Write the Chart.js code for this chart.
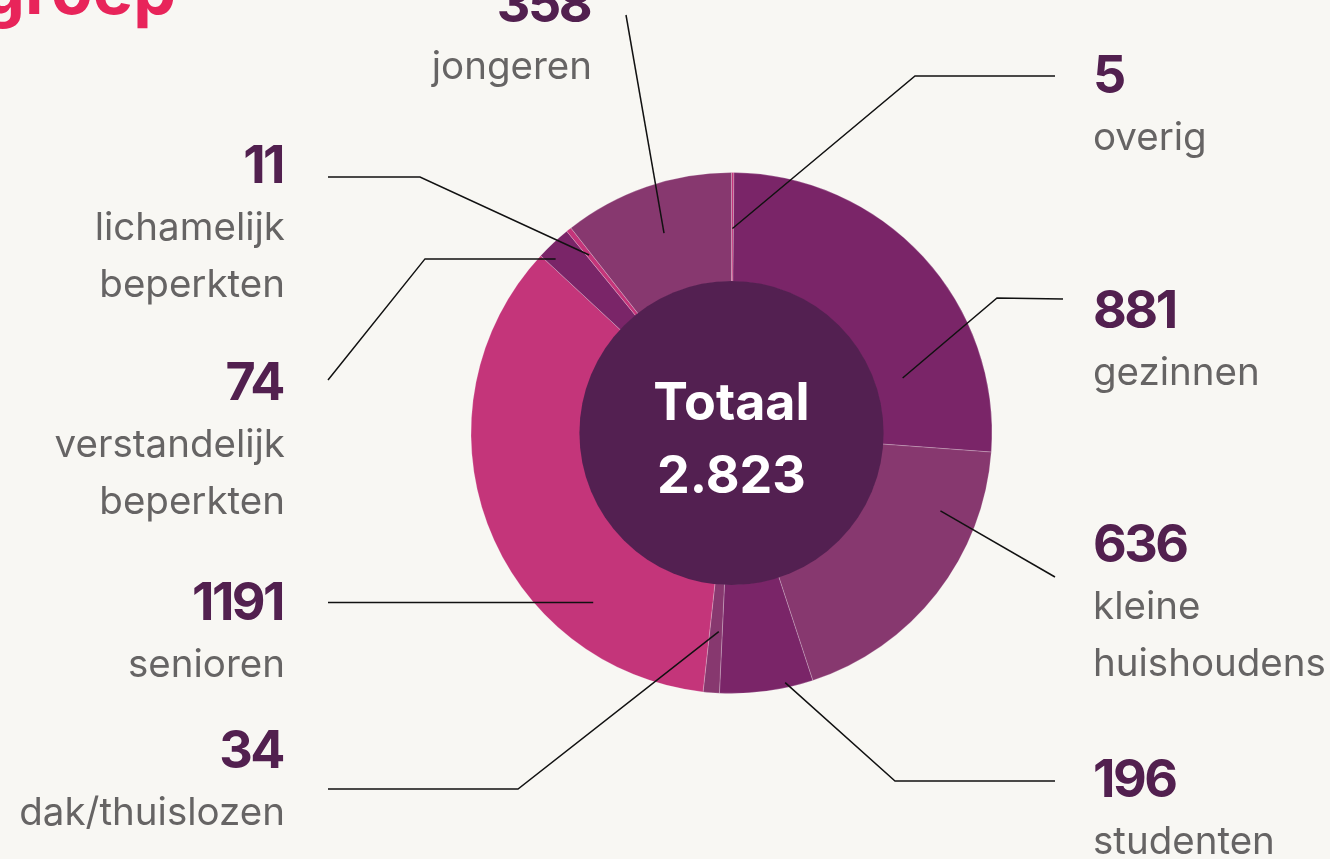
<!DOCTYPE html>
<html>
<head>
<meta charset="utf-8">
<script src="https://cdn.jsdelivr.net/npm/chart.js@4.4.0/dist/chart.umd.min.js"></script>
<style>
  html, body { margin: 0; padding: 0; background: #f8f7f3; overflow: hidden; }
  #wrap { position: relative; width: 1330px; height: 859px; }
</style>
</head>
<body>
<div id="wrap"><canvas id="grafiek" width="1330" height="859"></canvas></div>
<script>
// doelgroepen, met de klok mee vanaf boven
const categorieen = ['overig', 'gezinnen', 'kleine huishoudens', 'studenten', 'dak/thuislozen',
  'senioren', 'verstandelijk beperkten', 'lichamelijk beperkten', 'jongeren'];
const aantallen = [5, 881, 636, 196, 34, 1191, 74, 11, 358];
const kleuren = ['#c4357a', '#7a2568', '#87386f', '#7a2568', '#87386f',
  '#c4357a', '#7a2568', '#c4357a', '#87386f'];
// labeltekst per regel
const labelRegels = [['overig'], ['gezinnen'], ['kleine', 'huishoudens'], ['studenten'], ['dak/thuislozen'],
  ['senioren'], ['verstandelijk', 'beperkten'], ['lichamelijk', 'beperkten'], ['jongeren']];
const totaalTekst = '2.823';

// plaatsing van labels en lijntjes (t = fractie van de boog, r = fractie van de straal)
const plaatsing = [
  { t: 0.5,  r: 0.785, knik: [915, 76],  eind: [1055, 76],  x: 1093, y: 93,  align: 'left' },
  { t: 0.765, r: 0.69, knik: [997, 298], eind: [1063, 299], x: 1093, y: 328, align: 'left' },
  { t: 0.24, r: 0.856, knik: null,       eind: [1055, 577], x: 1093, y: 562, align: 'left' },
  { t: 0.29, r: 0.98,  knik: [895, 781], eind: [1055, 781], x: 1093, y: 797, align: 'left' },
  { t: 0.28, r: 0.764, knik: [518, 789], eind: [328, 789],  x: 285,  y: 768, align: 'right' },
  { t: 0.26, r: 0.84,  knik: null,       eind: [328, null], x: 285,  y: 620, align: 'right' },
  { t: 0.23, r: 0.95,  knik: [425, null], eind: [328, 380], x: 285,  y: 400, align: 'right' },
  { t: 0.5,  r: 0.875, knik: [420, 177], eind: [328, 177],  x: 285,  y: 183, align: 'right' },
  { t: 0.51, r: 0.81,  knik: null,       eind: [626, 15],   x: 592,  y: 22,  align: 'right' }
];

const FONT = '"Inter", "Noto Sans", sans-serif';

const labelsPlugin = {
  id: 'labels',
  afterDatasetsDraw(chart) {
    const ctx = chart.ctx;
    const arcs = chart.getDatasetMeta(0).data;
    const eerste = arcs[0];

    // donkere cirkel in het midden
    ctx.save();
    ctx.beginPath();
    ctx.arc(eerste.x, eerste.y, eerste.innerRadius + 1, 0, Math.PI * 2);
    ctx.fillStyle = '#532051';
    ctx.fill();

    ctx.fillStyle = '#ffffff';
    ctx.textAlign = 'center';
    ctx.textBaseline = 'alphabetic';
    ctx.font = 'bold 52px ' + FONT;
    ctx.fillText('Totaal', eerste.x, 420);
    ctx.fillText(totaalTekst, eerste.x, 493);

    // lijntjes
    ctx.strokeStyle = '#111111';
    ctx.lineWidth = 1.5;
    arcs.forEach((arc, i) => {
      const p = plaatsing[i];
      const hoek = arc.startAngle + p.t * (arc.endAngle - arc.startAngle);
      const ax = arc.x + Math.cos(hoek) * arc.outerRadius * p.r;
      const ay = arc.y + Math.sin(hoek) * arc.outerRadius * p.r;
      ctx.beginPath();
      ctx.moveTo(ax, ay);
      if (p.knik) ctx.lineTo(p.knik[0], p.knik[1] === null ? ay : p.knik[1]);
      ctx.lineTo(p.eind[0], p.eind[1] === null ? ay : p.eind[1]);
      ctx.stroke();
    });

    // labels
    plaatsing.forEach((p, i) => {
      ctx.textAlign = p.align;
      ctx.fillStyle = '#52204f';
      ctx.font = 'bold 52px ' + FONT;
      ctx.letterSpacing = '-2.5px';
      ctx.fillText(String(aantallen[i]), p.align === 'right' ? p.x - 2 : p.x, p.y);
      ctx.letterSpacing = '0px';
      ctx.fillStyle = '#666464';
      ctx.font = '38.5px ' + FONT;
      labelRegels[i].forEach((regel, j) => {
        ctx.fillText(regel, p.x, p.y + 57 * (j + 1));
      });
    });

    // titel (afgesneden bovenaan)
    ctx.textAlign = 'right';
    ctx.fillStyle = '#e8245a';
    ctx.font = 'bold 68px ' + FONT;
    ctx.fillText('groep', 176, 14);
    ctx.restore();
  }
};

new Chart(document.getElementById('grafiek'), {
  type: 'doughnut',
  data: {
    labels: categorieen,
    datasets: [{
      data: aantallen,
      backgroundColor: kleuren,
      borderColor: 'rgba(255,255,255,0.22)',
      borderWidth: 1
    }]
  },
  options: {
    responsive: false,
    animation: false,
    cutout: '58%',
    layout: { padding: { left: 470, right: 337, top: 172, bottom: 165 } },
    plugins: {
      legend: { display: false },
      tooltip: { enabled: false }
    }
  },
  plugins: [labelsPlugin]
});
</script>
</body>
</html>
